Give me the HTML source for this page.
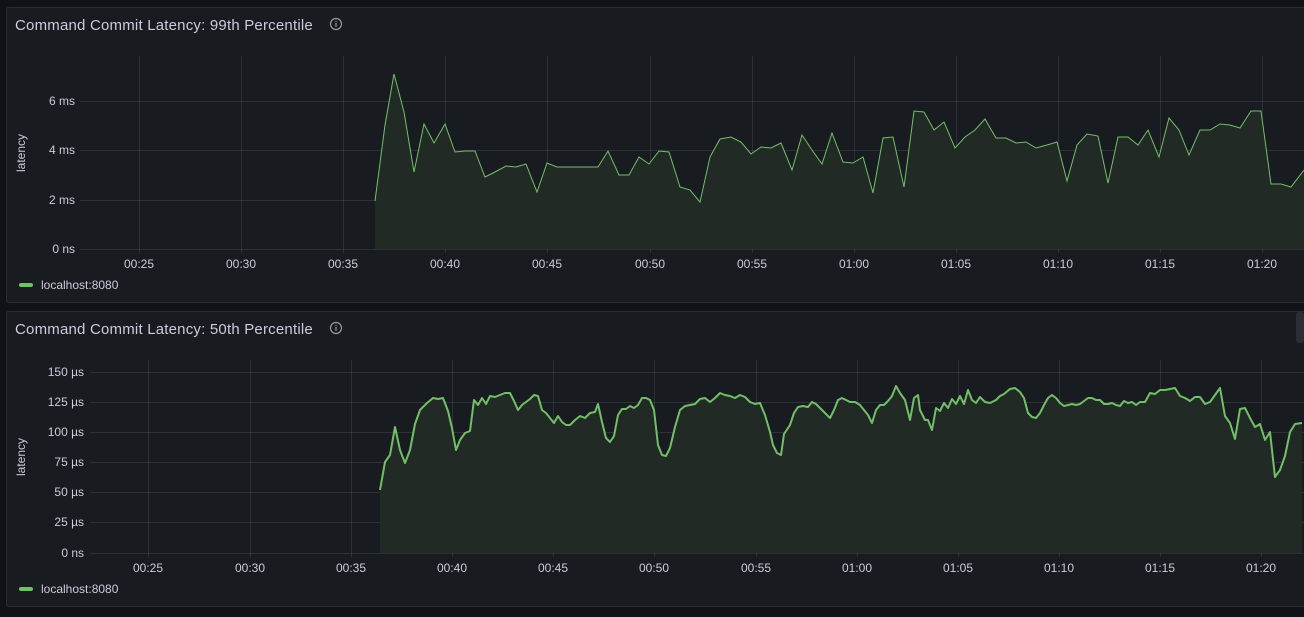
<!DOCTYPE html><html><head><style>
body{margin:0;background:#111217;width:1304px;height:612px;overflow:hidden;font-family:"Liberation Sans",sans-serif}
svg text{font-family:"Liberation Sans",sans-serif}
</style></head><body>
<svg width="1304" height="612" xmlns="http://www.w3.org/2000/svg">
<rect x="6.5" y="7.5" width="1310" height="295" rx="2" fill="#181b1f" stroke="#2a2d33"/>
<rect x="6.5" y="311.5" width="1310" height="295" rx="2" fill="#181b1f" stroke="#2a2d33"/>
<rect x="1296" y="312" width="8" height="31" rx="3" fill="#2a2d33"/>
<g fill="#ccccdc" font-size="15" letter-spacing="0.2">
<text x="15" y="30">Command Commit Latency: 99th Percentile</text>
<text x="15" y="334">Command Commit Latency: 50th Percentile</text>
</g>
<g fill="none" stroke="#9a9aa6" stroke-width="1.2"><circle cx="336" cy="24" r="5.5"/><circle cx="336" cy="328" r="5.5"/></g>
<g fill="#9a9aa6"><rect x="335.4" y="23" width="1.2" height="4"/><rect x="335.4" y="21" width="1.2" height="1.2"/><rect x="335.4" y="327" width="1.2" height="4"/><rect x="335.4" y="325" width="1.2" height="1.2"/></g>
<g stroke="rgba(204,204,220,0.12)" stroke-width="1">
<line x1="80" x2="1304" y1="101.5" y2="101.5"/><line x1="80" x2="1304" y1="150.5" y2="150.5"/><line x1="80" x2="1304" y1="200.5" y2="200.5"/><line x1="80" x2="1304" y1="249.5" y2="249.5"/>
<line x1="139.5" x2="139.5" y1="56" y2="253"/><line x1="241.5" x2="241.5" y1="56" y2="253"/><line x1="343.5" x2="343.5" y1="56" y2="253"/><line x1="445.5" x2="445.5" y1="56" y2="253"/><line x1="547.5" x2="547.5" y1="56" y2="253"/><line x1="650.5" x2="650.5" y1="56" y2="253"/><line x1="752.5" x2="752.5" y1="56" y2="253"/><line x1="854.5" x2="854.5" y1="56" y2="253"/><line x1="956.5" x2="956.5" y1="56" y2="253"/><line x1="1058.5" x2="1058.5" y1="56" y2="253"/><line x1="1160.5" x2="1160.5" y1="56" y2="253"/><line x1="1262.5" x2="1262.5" y1="56" y2="253"/>
</g>
<g fill="#ccccdc" font-size="12" text-anchor="end">
<text x="75" y="105">6 ms</text><text x="75" y="154">4 ms</text><text x="75" y="204">2 ms</text><text x="75" y="253">0 ns</text>
</g>
<g fill="#ccccdc" font-size="12" text-anchor="middle">
<text x="139" y="268">00:25</text><text x="241" y="268">00:30</text><text x="343" y="268">00:35</text><text x="445" y="268">00:40</text><text x="547" y="268">00:45</text><text x="650" y="268">00:50</text><text x="752" y="268">00:55</text><text x="854" y="268">01:00</text><text x="956" y="268">01:05</text><text x="1058" y="268">01:10</text><text x="1160" y="268">01:15</text><text x="1262" y="268">01:20</text>
</g>
<text transform="translate(25,153) rotate(-90)" fill="#ccccdc" font-size="12" text-anchor="middle">latency</text>
<rect x="19" y="283" width="14" height="4" rx="2" fill="#73bf69"/>
<text x="41" y="289" fill="#ccccdc" font-size="12">localhost:8080</text>
<polygon fill="#222a25" points="375,249 375,201 385,125 394,74 404,112 414,172 424,124 434,143 445,124 455,152 465,151 475,151 485,177 495,172 506,166 516,167 526,164 537,192 547,163 557,167 568,167 578,167 588,167 598,167 608,151 619,175 629,175 639,157 649,164 659,151 669,152 680,187 690,190 700,202 710,157 720,139 731,137 741,142 751,154 761,147 771,148 781,143 792,170 802,135 812,150 822,164 832,133 843,162 853,163 863,157 873,193 883,138 893,137 904,187 914,111 924,112 934,130 944,122 955,148 965,137 975,130 985,119 996,138 1006,138 1016,143 1026,142 1036,148 1047,145 1057,142 1067,181 1077,145 1087,134 1098,136 1108,183 1118,137 1128,137 1138,145 1148,130 1159,157 1169,118 1179,130 1189,155 1200,130 1210,130 1220,124 1230,125 1240,128 1251,111 1261,111 1271,184 1281,184 1291,187 1304,170 1304,249"/>
<polyline fill="none" stroke="#73bf69" stroke-width="1" points="375,201 385,125 394,74 404,112 414,172 424,124 434,143 445,124 455,152 465,151 475,151 485,177 495,172 506,166 516,167 526,164 537,192 547,163 557,167 568,167 578,167 588,167 598,167 608,151 619,175 629,175 639,157 649,164 659,151 669,152 680,187 690,190 700,202 710,157 720,139 731,137 741,142 751,154 761,147 771,148 781,143 792,170 802,135 812,150 822,164 832,133 843,162 853,163 863,157 873,193 883,138 893,137 904,187 914,111 924,112 934,130 944,122 955,148 965,137 975,130 985,119 996,138 1006,138 1016,143 1026,142 1036,148 1047,145 1057,142 1067,181 1077,145 1087,134 1098,136 1108,183 1118,137 1128,137 1138,145 1148,130 1159,157 1169,118 1179,130 1189,155 1200,130 1210,130 1220,124 1230,125 1240,128 1251,111 1261,111 1271,184 1281,184 1291,187 1304,170"/>
<g stroke="rgba(204,204,220,0.12)" stroke-width="1">
<line x1="90" x2="1304" y1="372.5" y2="372.5"/><line x1="90" x2="1304" y1="402.5" y2="402.5"/><line x1="90" x2="1304" y1="432.5" y2="432.5"/><line x1="90" x2="1304" y1="462.5" y2="462.5"/><line x1="90" x2="1304" y1="492.5" y2="492.5"/><line x1="90" x2="1304" y1="522.5" y2="522.5"/><line x1="90" x2="1304" y1="553.5" y2="553.5"/>
<line x1="148.5" x2="148.5" y1="360" y2="557"/><line x1="250.5" x2="250.5" y1="360" y2="557"/><line x1="351.5" x2="351.5" y1="360" y2="557"/><line x1="452.5" x2="452.5" y1="360" y2="557"/><line x1="553.5" x2="553.5" y1="360" y2="557"/><line x1="654.5" x2="654.5" y1="360" y2="557"/><line x1="756.5" x2="756.5" y1="360" y2="557"/><line x1="857.5" x2="857.5" y1="360" y2="557"/><line x1="958.5" x2="958.5" y1="360" y2="557"/><line x1="1059.5" x2="1059.5" y1="360" y2="557"/><line x1="1160.5" x2="1160.5" y1="360" y2="557"/><line x1="1261.5" x2="1261.5" y1="360" y2="557"/>
</g>
<g fill="#ccccdc" font-size="12" text-anchor="end">
<text x="84" y="376">150 µs</text><text x="84" y="406">125 µs</text><text x="84" y="436">100 µs</text><text x="84" y="466">75 µs</text><text x="84" y="496">50 µs</text><text x="84" y="526">25 µs</text><text x="84" y="557">0 ns</text>
</g>
<g fill="#ccccdc" font-size="12" text-anchor="middle">
<text x="148" y="572">00:25</text><text x="250" y="572">00:30</text><text x="351" y="572">00:35</text><text x="452" y="572">00:40</text><text x="553" y="572">00:45</text><text x="654" y="572">00:50</text><text x="756" y="572">00:55</text><text x="857" y="572">01:00</text><text x="958" y="572">01:05</text><text x="1059" y="572">01:10</text><text x="1160" y="572">01:15</text><text x="1261" y="572">01:20</text>
</g>
<text transform="translate(25,457) rotate(-90)" fill="#ccccdc" font-size="12" text-anchor="middle">latency</text>
<rect x="19" y="587" width="14" height="4" rx="2" fill="#73bf69"/>
<text x="41" y="593" fill="#ccccdc" font-size="12">localhost:8080</text>
<polygon fill="#222a25" points="380,553 380,490 385,462 390,455 395,427 400,450 405,463 410,450 415,424 420,410 427,403 433,398 438,399 443,398 448,411 452,428 456,450 460,440 465,433 470,431 474,400 478,405 482,398 486,404 490,396 495,397 500,395 505,393 510,393 514,401 518,410 522,405 526,402 530,399 534,395 538,396 542,410 546,413 550,418 554,423 558,416 562,422 566,425 570,425 575,420 580,416 585,418 590,413 595,412 598,404 602,422 606,438 610,442 614,436 618,415 622,409 626,409 630,406 634,408 638,405 642,398 646,398 650,400 654,410 658,445 662,455 666,456 670,448 675,427 680,410 685,406 690,405 695,404 700,399 705,398 710,402 715,398 720,393 725,395 730,396 735,398 740,395 745,397 750,402 755,404 760,403 765,415 770,432 773,445 777,453 781,455 784,434 790,425 794,413 798,407 803,406 808,407 812,402 816,404 820,408 825,413 830,418 834,410 838,400 842,398 846,400 850,402 855,402 860,405 864,410 868,415 872,423 876,410 880,405 884,405 888,401 892,396 896,386 900,393 905,400 910,420 914,398 918,395 920,410 925,420 928,420 932,430 936,408 940,411 944,403 948,408 952,399 956,404 960,396 964,404 968,390 972,400 976,403 980,397 985,402 990,403 996,400 1000,396 1004,394 1010,389 1015,388 1020,392 1024,398 1028,413 1032,417 1036,418 1040,413 1044,405 1048,398 1052,395 1056,398 1060,403 1064,406 1068,405 1072,404 1076,405 1080,404 1084,401 1088,398 1092,398 1096,400 1100,400 1104,404 1108,404 1112,403 1116,405 1120,406 1124,401 1128,403 1132,402 1136,405 1140,402 1145,402 1150,393 1155,394 1160,390 1165,390 1170,389 1175,388 1180,396 1185,398 1190,401 1195,397 1200,397 1205,404 1210,402 1215,395 1220,388 1225,416 1230,423 1235,439 1240,409 1245,408 1250,418 1255,427 1260,424 1265,440 1270,432 1275,477 1280,470 1285,456 1290,432 1295,424 1302,423 1302,553"/>
<polyline fill="none" stroke="#73bf69" stroke-width="2" stroke-linejoin="round" points="380,490 385,462 390,455 395,427 400,450 405,463 410,450 415,424 420,410 427,403 433,398 438,399 443,398 448,411 452,428 456,450 460,440 465,433 470,431 474,400 478,405 482,398 486,404 490,396 495,397 500,395 505,393 510,393 514,401 518,410 522,405 526,402 530,399 534,395 538,396 542,410 546,413 550,418 554,423 558,416 562,422 566,425 570,425 575,420 580,416 585,418 590,413 595,412 598,404 602,422 606,438 610,442 614,436 618,415 622,409 626,409 630,406 634,408 638,405 642,398 646,398 650,400 654,410 658,445 662,455 666,456 670,448 675,427 680,410 685,406 690,405 695,404 700,399 705,398 710,402 715,398 720,393 725,395 730,396 735,398 740,395 745,397 750,402 755,404 760,403 765,415 770,432 773,445 777,453 781,455 784,434 790,425 794,413 798,407 803,406 808,407 812,402 816,404 820,408 825,413 830,418 834,410 838,400 842,398 846,400 850,402 855,402 860,405 864,410 868,415 872,423 876,410 880,405 884,405 888,401 892,396 896,386 900,393 905,400 910,420 914,398 918,395 920,410 925,420 928,420 932,430 936,408 940,411 944,403 948,408 952,399 956,404 960,396 964,404 968,390 972,400 976,403 980,397 985,402 990,403 996,400 1000,396 1004,394 1010,389 1015,388 1020,392 1024,398 1028,413 1032,417 1036,418 1040,413 1044,405 1048,398 1052,395 1056,398 1060,403 1064,406 1068,405 1072,404 1076,405 1080,404 1084,401 1088,398 1092,398 1096,400 1100,400 1104,404 1108,404 1112,403 1116,405 1120,406 1124,401 1128,403 1132,402 1136,405 1140,402 1145,402 1150,393 1155,394 1160,390 1165,390 1170,389 1175,388 1180,396 1185,398 1190,401 1195,397 1200,397 1205,404 1210,402 1215,395 1220,388 1225,416 1230,423 1235,439 1240,409 1245,408 1250,418 1255,427 1260,424 1265,440 1270,432 1275,477 1280,470 1285,456 1290,432 1295,424 1302,423"/>
</svg>
</body></html>
